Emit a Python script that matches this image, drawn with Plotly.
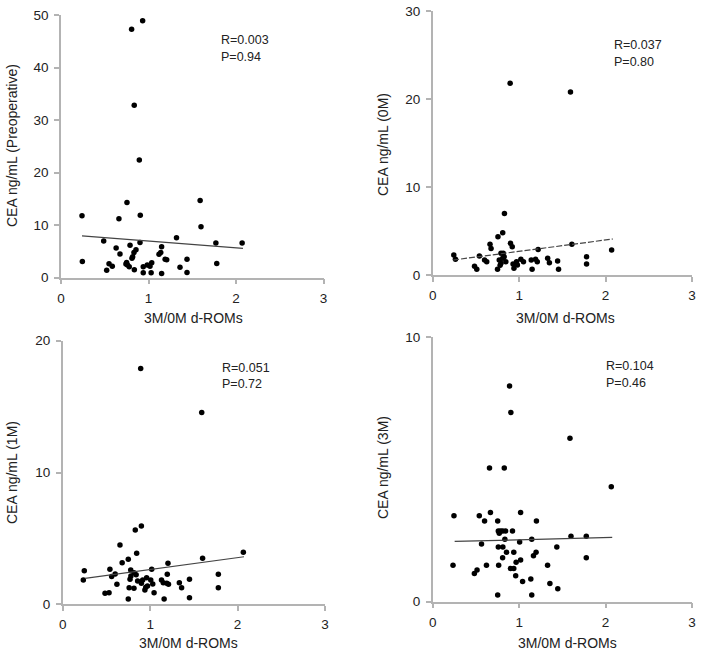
import plotly.graph_objects as go

W, H = 701, 655

# ---------------- data ----------------
x_pre = [0.933, 0.807, 0.837, 0.895, 0.24, 0.754, 0.662, 0.906, 1.59, 1.60, 1.32, 1.77, 2.07,
         0.488, 0.244, 0.63, 0.674, 0.789, 0.857, 0.834, 0.819, 0.811, 0.903, 0.75, 0.76, 0.78,
         0.742, 0.549, 0.586, 0.522, 0.838, 0.94, 0.986, 1.037, 1.017, 0.94, 1.03, 1.15, 1.14,
         1.12, 1.15, 1.208, 1.19, 1.36, 1.44, 1.44, 1.78]
y_pre = [48.9, 47.3, 32.8, 22.4, 11.8, 14.3, 11.2, 11.9, 14.7, 9.7, 7.6, 6.6, 6.6,
         7.0, 3.1, 5.66, 4.5, 6.2, 5.3, 4.8, 4.0, 3.7, 6.7, 2.9, 2.4, 2.1,
         2.6, 2.67, 2.2, 1.4, 1.5, 2.1, 2.4, 2.86, 2.2, 0.95, 0.95, 5.9, 4.8,
         4.45, 0.8, 3.4, 3.5, 2.0, 3.5, 1.0, 2.7]
fit_pre_x = [0.24, 2.08]
fit_pre_y = [7.95, 5.6]

x_0m = [0.896, 1.594, 0.83, 0.81, 0.755, 0.663, 0.675, 0.90, 0.92, 0.244, 0.263, 0.54, 0.60,
        0.625, 0.484, 0.51, 0.75, 0.77, 0.79, 0.81, 0.827, 0.846, 0.79, 0.816, 0.78,
        0.94, 0.93, 0.97, 1.02, 1.05, 0.98, 1.15, 1.14, 1.19, 1.21, 1.22, 1.33, 1.35,
        1.445, 1.456, 1.61, 1.78, 1.78, 2.07]
y_0m = [21.8, 20.8, 7.0, 4.8, 4.35, 3.5, 3.0, 3.6, 3.2, 2.27, 1.78, 2.16, 1.7,
        1.5, 1.0, 0.65, 0.65, 1.7, 1.33, 1.9, 2.08, 1.5, 2.46, 2.46, 1.1,
        0.76, 1.25, 1.5, 1.78, 1.5, 1.14, 0.65, 1.7, 1.78, 1.5, 2.9, 1.9, 1.4,
        1.6, 0.65, 3.5, 2.08, 1.25, 2.84]
fit_0m_x = [0.236, 2.085]
fit_0m_y = [1.7, 4.09]

x_1m = [0.892, 1.59, 0.90, 0.83, 0.655, 0.846, 0.75, 0.68, 1.204, 1.60, 2.066, 0.247, 0.236,
        0.54, 0.60, 0.56, 0.62, 0.484, 0.53, 0.75, 0.778, 0.815, 0.78, 0.84, 0.77, 0.857,
        0.90, 0.76, 0.815, 0.915, 0.96, 1.018, 1.007, 0.97, 0.94, 0.95, 1.045, 1.03,
        1.13, 1.15, 1.19, 1.196, 1.16, 1.21, 1.334, 1.36, 1.45, 1.45, 1.78, 1.78]
y_1m = [17.9, 14.56, 5.94, 5.64, 4.5, 3.87, 3.41, 3.16, 3.11, 3.49, 3.94, 2.55, 1.84,
        2.65, 2.3, 2.1, 1.52, 0.83, 0.88, 0.4, 2.6, 2.4, 2.15, 2.25, 1.9, 1.77,
        1.6, 1.26, 1.21, 1.84, 2.02, 2.65, 1.84, 1.39, 1.09, 1.3, 0.88, 1.54,
        1.84, 1.64, 1.59, 2.28, 0.4, 1.52, 1.64, 1.26, 1.9, 0.5, 2.28, 1.26]
fit_1m_x = [0.255, 2.074]
fit_1m_y = [1.97, 3.61]

x_3m = [0.889, 0.904, 1.588, 0.657, 0.828, 2.066, 0.246, 0.539, 0.668, 0.60, 0.752, 1.017,
        1.20, 0.759, 0.785, 0.81, 0.843, 0.77, 0.923, 0.835, 1.146, 1.006, 1.60, 1.777,
        0.565, 0.759, 0.812, 0.854, 0.938, 1.196, 1.166, 1.436, 0.809, 1.017, 0.965,
        0.235, 0.622, 0.763, 0.90, 0.938, 0.513, 0.482, 1.329, 1.777, 0.96, 1.135, 1.04,
        1.356, 1.447, 0.752, 1.146]
y_3m = [8.16, 7.16, 6.18, 5.06, 5.06, 4.35, 3.25, 3.25, 3.37, 3.05, 3.05, 3.37,
        3.05, 2.67, 2.67, 2.67, 2.67, 2.59, 2.67, 2.36, 2.36, 2.26, 2.48, 2.48,
        2.18, 2.07, 2.07, 1.87, 1.87, 1.87, 1.74, 2.07, 1.66, 1.58, 1.49,
        1.38, 1.38, 1.38, 1.26, 1.26, 1.2, 1.07, 1.38, 1.66, 0.98, 0.86, 0.76,
        0.69, 0.49, 0.25, 0.25]
fit_3m_x = [0.254, 2.077]
fit_3m_y = [2.28, 2.43]

x_ticks = [0, 1, 2, 3]
panels = [
    dict(x=x_pre, y=y_pre, fx=fit_pre_x, fy=fit_pre_y, ymax=50, yticks=[0, 10, 20, 30, 40, 50],
         ytitle="CEA ng/mL (Preoperative)", r="R=0.003", p="P=0.94", dash="solid"),
    dict(x=x_0m, y=y_0m, fx=fit_0m_x, fy=fit_0m_y, ymax=30, yticks=[0, 10, 20, 30],
         ytitle="CEA ng/mL (0M)", r="R=0.037", p="P=0.80", dash="6px,2px"),
    dict(x=x_1m, y=y_1m, fx=fit_1m_x, fy=fit_1m_y, ymax=20, yticks=[0, 10, 20],
         ytitle="CEA ng/mL (1M)", r="R=0.051", p="P=0.72", dash="solid"),
    dict(x=x_3m, y=y_3m, fx=fit_3m_x, fy=fit_3m_y, ymax=10, yticks=[0, 10],
         ytitle="CEA ng/mL (3M)", r="R=0.104", p="P=0.46", dash="solid"),
]
x_title = "3M/0M d-ROMs"

# ---------------- layout (pixel geometry) ----------------
# (left, right, top, bottom) pixel positions of each plot area
boxes = [(61, 323.5, 15, 277.7), (432.7, 692, 11, 275),
         (62.7, 325, 340.7, 604.3), (432.7, 692, 337.3, 601.7)]
xtitle_pos = [(193, 318), (565, 318), (189, 643), (567, 643)]
ytitle_pos = [(12, 146), (383, 145), (12, 473), (383, 468)]
ann_pos = [(219, 40, 57), (612, 45, 62), (220, 368, 384), (604, 366, 383)]

FONT = "Liberation Sans, Arial, Helvetica, sans-serif"
AX_COL = "#b3b3b3"

fig = go.Figure()
layout = dict(width=W, height=H, margin=dict(l=0, r=0, t=0, b=0),
              paper_bgcolor="white", plot_bgcolor="white", showlegend=False,
              font=dict(family=FONT, color="#222"), annotations=[])

for i, pn in enumerate(panels):
    n = "" if i == 0 else str(i + 1)
    xa, ya = "x" + n, "y" + n
    fig.add_trace(go.Scatter(x=pn["x"], y=pn["y"], mode="markers", xaxis=xa, yaxis=ya,
                             marker=dict(color="black", size=5.5), cliponaxis=False))
    fig.add_trace(go.Scatter(x=pn["fx"], y=pn["fy"], mode="lines", xaxis=xa, yaxis=ya,
                             line=dict(color="#444", width=1.2, dash=pn["dash"])))
    l, r, t, b = boxes[i]
    common = dict(showline=True, linecolor=AX_COL, linewidth=1.5, ticks="outside",
                  ticklen=5, tickcolor=AX_COL, tickwidth=1.5, showgrid=False,
                  zeroline=False, automargin=False,
                  tickfont=dict(size=13.5, color="#222", family=FONT))
    layout["xaxis" + n] = dict(domain=[l / W, r / W], range=[0, 3], tickvals=x_ticks,
                               anchor=ya, ticklabelstandoff=2, **common)
    layout["yaxis" + n] = dict(domain=[1 - b / H, 1 - t / H], range=[0, pn["ymax"]],
                               tickvals=pn["yticks"], anchor=xa, ticklabelstandoff=3, **common)
    tx, ty = xtitle_pos[i]
    layout["annotations"].append(dict(text=x_title, x=tx / W, y=1 - ty / H, xref="paper",
                                      yref="paper", showarrow=False, xanchor="center",
                                      yanchor="middle", font=dict(size=14, color="#222")))
    yx, yy = ytitle_pos[i]
    layout["annotations"].append(dict(text=pn["ytitle"], x=yx / W, y=1 - yy / H, xref="paper",
                                      yref="paper", showarrow=False, textangle=-90,
                                      xanchor="center", yanchor="middle",
                                      font=dict(size=14, color="#222")))
    ax_, ry, py = ann_pos[i]
    for txt, yy2 in ((pn["r"], ry), (pn["p"], py)):
        layout["annotations"].append(dict(text=txt, x=ax_ / W, y=1 - yy2 / H, xref="paper",
                                          yref="paper", showarrow=False, xanchor="left",
                                          yanchor="middle", font=dict(size=12.5, color="#222")))

fig.update_layout(**layout)
fig.write_html("out.html", config={"displayModeBar": False},
               post_script="document.body.style.margin='0';document.body.style.overflow='hidden';")
